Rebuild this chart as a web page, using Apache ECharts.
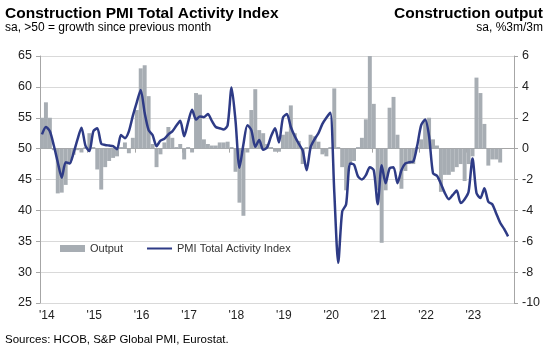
<!DOCTYPE html>
<html>
<head>
<meta charset="utf-8">
<script src="https://cdn.jsdelivr.net/npm/echarts@6/dist/echarts.min.js"></script>
<style>
html,body{margin:0;padding:0;background:#fff;}
#c{width:548px;height:351px;}
</style>
</head>
<body>
<div id="c"></div>
<script>
// Year tick labels (one per January)
const yearLabels = ["'14","'15","'16","'17","'18","'19","'20","'21","'22","'23"];

// PMI Total Activity Index, monthly Jan 2014 - Nov 2023
const pmi = [
  52.3,53.5,52.8,50.5,47.8,45.3,47.8,47.6,49.3,51.5,53.4,50.5,
  49.6,52.8,53.3,50.8,50.6,50.5,50.4,49.9,52.2,51.7,52.8,55.3,
  57.5,59.5,55.8,53.0,52.2,50.4,51.3,51.6,52.3,52.8,53.7,54.5,
  52.0,54.3,56.3,54.7,55.2,55.1,55.6,54.5,53.5,53.3,53.1,53.8,
  59.9,54.5,46.9,50.7,53.8,53.0,50.3,51.4,49.8,50.2,52.0,53.3,
  51.0,55.0,55.6,53.5,52.0,50.8,49.7,46.5,50.2,51.5,52.5,54.0,
  55.0,55.8,43.0,31.5,39.8,41.0,47.6,47.4,45.5,45.0,45.7,47.0,
  46.5,41.0,47.3,44.4,46.8,47.0,44.4,46.5,47.6,47.8,47.9,50.5,
  53.8,54.7,52.0,46.0,45.6,44.3,42.8,41.8,42.5,43.2,41.2,41.8,
  43.0,48.4,42.8,42.0,43.6,41.4,41.0,39.5,38.0,37.0,35.8,null
];

// Construction output, sa %3m/3m, monthly Jan 2014 - Sep 2023
const output = [
  2.0,3.0,2.0,-0.1,-2.9,-2.85,-2.35,-0.95,-0.4,-0.1,-0.25,0.1,
  1.0,0.1,-1.35,-2.65,-1.2,-0.8,-0.6,-0.5,0.1,0.4,-0.3,0.7,
  2.5,5.2,5.4,3.4,0.3,-1.2,-0.37,0.4,1.4,0.7,0.1,0.3,
  -0.7,0.1,-0.25,3.6,3.5,0.6,0.3,0.2,0.2,0.4,0.4,0.45,
  0.1,-1.5,-3.5,-4.35,-0.25,2.5,3.85,1.2,1.0,0.3,0.1,-0.2,
  -0.2,0.9,1.1,2.8,1.0,0.5,-1.0,0.1,0.9,0.8,0.45,-0.37,
  -0.5,0.1,3.9,0.1,-1.2,-2.7,-1.0,-0.8,0.1,0.7,1.9,6.0,
  2.9,-2.7,-6.1,-2.7,2.65,3.35,0.9,-2.6,-1.45,-1.0,-1.0,0.1,
  0.6,1.8,2.0,0.6,0.2,-2.8,-1.7,-1.7,-1.5,-1.2,-1.0,-2.1,
  -1.0,-0.5,4.6,3.6,1.6,-1.1,-0.7,-0.7,-0.9,null,null,null
];

// month categories
const months = [];
for (let y = 0; y < yearLabels.length; y++) {
  for (let m = 0; m < 12; m++) months.push(yearLabels[y] + '-' + (m + 1));
}

const FONT = 'Liberation Sans, Arial, sans-serif';
const LINE_COLOR = '#2e3b86';
const chart = echarts.init(document.getElementById('c'), null, {renderer: 'canvas'});
chart.setOption({
  animation: false,
  backgroundColor: '#fff',
  textStyle: {fontFamily: FONT},
  title: [
    {text: 'Construction PMI Total Activity Index', left: 5, top: 6, padding: 0,
     textStyle: {fontFamily: FONT, fontSize: 15.5, fontWeight: 'bold', color: '#000'}},
    {text: 'sa, >50 = growth since previous month', left: 5, top: 22, padding: 0,
     textStyle: {fontFamily: FONT, fontSize: 12, fontWeight: 'normal', color: '#000'}},
    {text: 'Construction output', right: 5, top: 6, padding: 0,
     textStyle: {fontFamily: FONT, fontSize: 15.5, fontWeight: 'bold', color: '#000'}},
    {text: 'sa, %3m/3m', right: 5, top: 22, padding: 0,
     textStyle: {fontFamily: FONT, fontSize: 12, fontWeight: 'normal', color: '#000'}},
    {text: 'Sources: HCOB, S&P Global PMI, Eurostat.', left: 5, top: 334, padding: 0,
     textStyle: {fontFamily: FONT, fontSize: 11.5, fontWeight: 'normal', color: '#000'}}
  ],
  legend: {
    left: 55, top: 238, itemWidth: 25, itemHeight: 7, itemGap: 24,
    textStyle: {fontFamily: FONT, fontSize: 11, color: '#333'},
    data: [
      {name: 'Output', icon: 'rect'},
      {name: 'PMI Total Activity Index',
       icon: 'path://M0,0L0.01,0L0,0.01Z M0,2.4L26,2.4L26,4.6L0,4.6Z M0,7L0.01,7L0,6.99Z',
       itemStyle: {color: LINE_COLOR}}
    ]
  },
  grid: {left: 40, right: 34, top: 56, bottom: 48, containLabel: false},
  xAxis: {
    type: 'category', data: months, boundaryGap: true,
    axisLine: {lineStyle: {color: '#a6a6a6', width: 1}},
    axisTick: {show: true, length: 4, lineStyle: {color: '#a6a6a6'},
               interval: function (i) { return i % 12 === 0; }},
    axisLabel: {interval: function (i) { return i % 12 === 0; },
                formatter: function (v) { return v.split('-')[0]; },
                align: 'left', padding: [0, 0, 0, -3], margin: 7,
                fontSize: 12, color: '#222', fontFamily: FONT},
    splitLine: {show: false}
  },
  yAxis: [
    {type: 'value', min: 25, max: 65, interval: 5, position: 'left',
     axisLine: {show: true, lineStyle: {color: '#a6a6a6'}},
     axisTick: {show: true, length: 4, lineStyle: {color: '#a6a6a6'}},
     axisLabel: {fontSize: 12.5, color: '#222', margin: 8, fontFamily: FONT},
     splitLine: {show: true, lineStyle: {color: '#d9d9d9', width: 1}}},
    {type: 'value', min: -10, max: 6, interval: 2, position: 'right',
     axisLine: {show: true, lineStyle: {color: '#a6a6a6'}},
     axisTick: {show: true, length: 4, lineStyle: {color: '#a6a6a6'}},
     axisLabel: {fontSize: 12.5, color: '#222', margin: 8, fontFamily: FONT},
     splitLine: {show: false}}
  ],
  series: [
    {name: 'Output', type: 'bar', yAxisIndex: 1, data: output,
     barCategoryGap: '0%', itemStyle: {color: '#a7adb3'}},
    {name: 'PMI Total Activity Index', type: 'line', yAxisIndex: 0, data: pmi,
     symbol: 'none', smooth: 0.25, connectNulls: false,
     lineStyle: {color: LINE_COLOR, width: 2.5}, itemStyle: {color: LINE_COLOR}}
  ]
});
</script>
</body>
</html>
